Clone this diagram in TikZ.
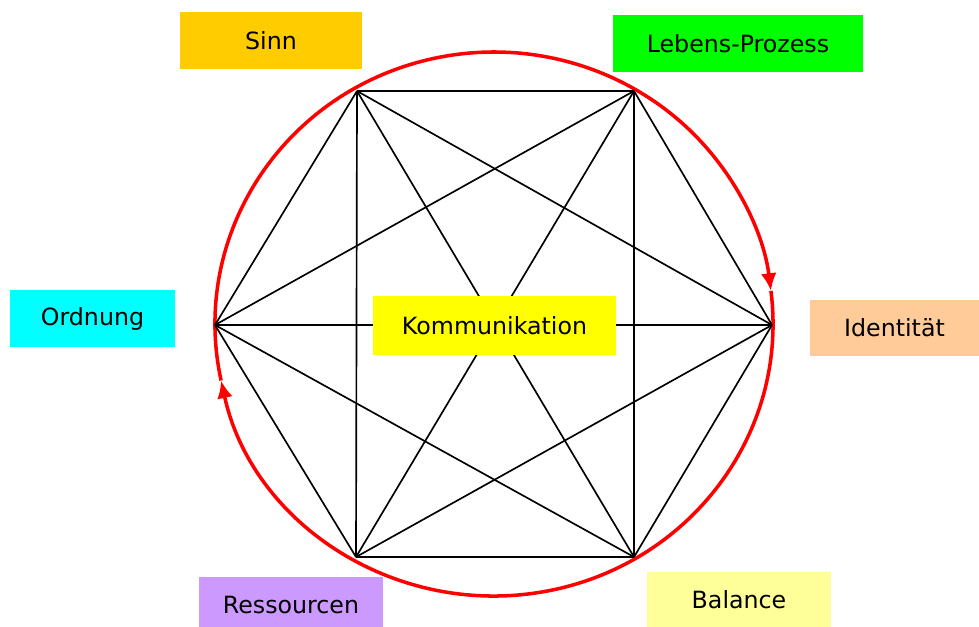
\documentclass[tikz,border=0pt]{standalone}
\usepackage{fontspec}
\setmainfont{DejaVu Sans}
\usepackage{tikz}
\usepackage{xcolor}
\usetikzlibrary{arrows.meta}
\definecolor{sinn-col}{HTML}{FFCC00}
\definecolor{prozess-col}{HTML}{00FF00}
\definecolor{ident-col}{HTML}{FFCC99}
\definecolor{ordnung-col}{HTML}{00FFFF}
\definecolor{komm-col}{HTML}{FFFF00}
\definecolor{ressource-col}{HTML}{CC99FF}
\definecolor{balance-col}{HTML}{FFFF99}
\tikzset{
    label-box/.style = {rectangle, inner sep=0pt, minimum height=57*0.02cm, font=\fontsize{13.5}{16}\selectfont},
    star-line/.style = {black, line width=0.95pt},
    ring-arc/.style = {red, line width=2pt, -{Latex[length=10pt,width=9pt]}},
}

\begin{document}
\begin{tikzpicture}[x=0.02cm, y=0.02cm]
\useasboundingbox (0,0) rectangle (979,626);
\coordinate (mid) at (494,302);
\coordinate (v-sinn) at (357,535);
\coordinate (v-prozess) at (634,535);
\coordinate (v-ident) at (772,301);
\coordinate (v-balance) at (634,69);
\coordinate (v-ressource) at (356,69);
\coordinate (v-ordnung) at (215,301);

% ring with the two arrows
\draw[ring-arc] (mid) ++(192:279 and 272) arc[start angle=192, end angle=7, x radius=279, y radius=272];
\draw[ring-arc] (mid) ++(7:279 and 272) arc[start angle=7, end angle=-168, x radius=279, y radius=272];

% every vertex to every other one
\foreach \a/\b in {sinn/prozess, sinn/ident, sinn/balance, sinn/ressource, sinn/ordnung,
    prozess/ident, prozess/balance, prozess/ressource, prozess/ordnung,
    ident/balance, ident/ressource, ident/ordnung,
    balance/ressource, balance/ordnung, ressource/ordnung}
    \draw[star-line] (v-\a) -- (v-\b);

\node[label-box, fill=komm-col, minimum width=243*0.02cm, minimum height=59*0.02cm] (komm) at (494.5,300.5) {Kommunikation};
\node[label-box, fill=sinn-col, minimum width=182*0.02cm] (sinn) at (271,585.5) {Sinn};
\node[label-box, fill=prozess-col, minimum width=250*0.02cm] (prozess) at (738,582.5) {Lebens-Prozess};
\node[label-box, fill=ident-col, minimum width=169*0.02cm, minimum height=56*0.02cm] (ident) at (894.5,298) {Identität};
\node[label-box, fill=ordnung-col, minimum width=165*0.02cm] (ordnung) at (92.5,307.5) {Ordnung};
\node[label-box, fill=ressource-col, minimum width=184*0.02cm] (ressource) at (291,20.5) {Ressourcen};
\node[label-box, fill=balance-col, minimum width=184*0.02cm, minimum height=55*0.02cm] (balance) at (739,26.5) {Balance};
\end{tikzpicture}
\end{document}
